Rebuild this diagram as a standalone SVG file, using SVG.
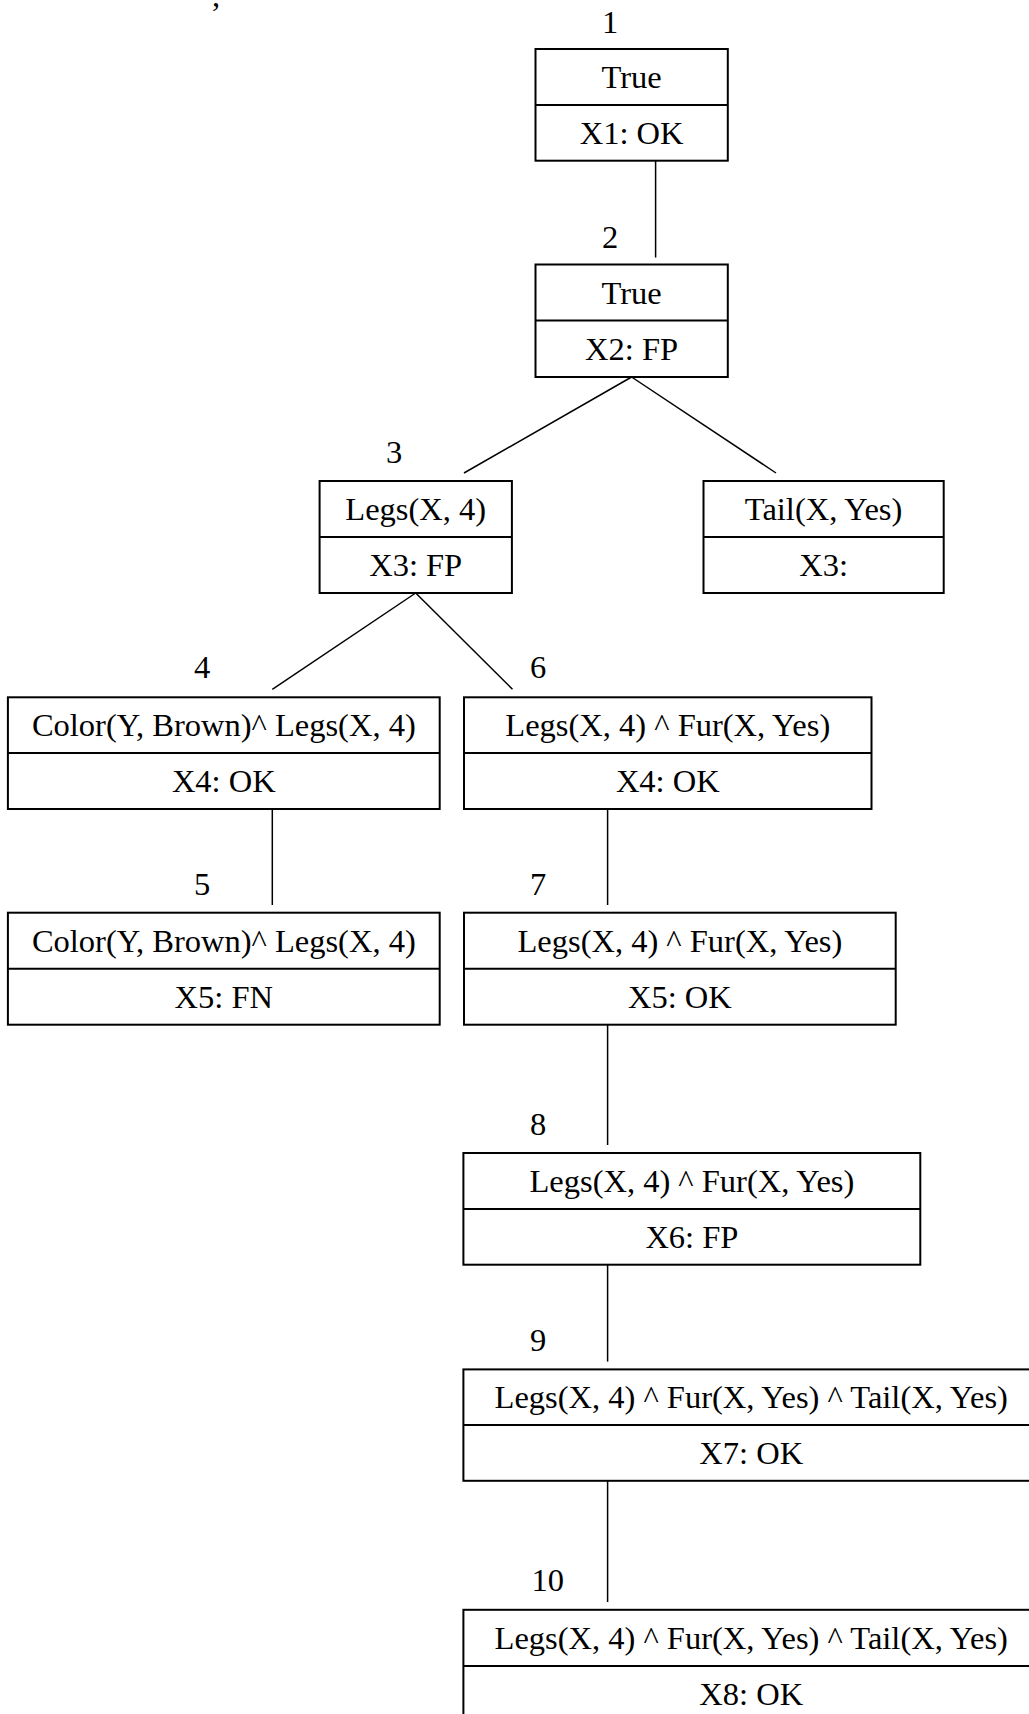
<svg xmlns="http://www.w3.org/2000/svg" width="1029" height="1714" viewBox="0 0 1029 1714">
<style>
  .box { fill: #fff; stroke: #000; stroke-width: 2; }
  .div { stroke: #000; stroke-width: 2; }
  .edge { stroke: #000; stroke-width: 1.5; fill: none; }
  text { font-family: "Liberation Serif", "Times New Roman", serif; font-size: 32.5px; fill: #000; }
  .c { text-anchor: middle; }
</style>
<rect x="0" y="0" width="1029" height="1714" fill="#fff"/>
<text x="212" y="6">,</text>
<g id="connectors">
  <line class="edge" x1="655.6" y1="160.7" x2="655.6" y2="257.5"/>
  <line class="edge" x1="631.6" y1="377" x2="464" y2="473"/>
  <line class="edge" x1="631.6" y1="377" x2="776" y2="473"/>
  <line class="edge" x1="415.7" y1="593" x2="272.3" y2="689.3"/>
  <line class="edge" x1="415.7" y1="593" x2="512.5" y2="689.3"/>
  <line class="edge" x1="272.3" y1="809" x2="272.3" y2="905"/>
  <line class="edge" x1="607.6" y1="809" x2="607.6" y2="905"/>
  <line class="edge" x1="607.6" y1="1024.7" x2="607.6" y2="1145"/>
  <line class="edge" x1="607.6" y1="1264.7" x2="607.6" y2="1361.6"/>
  <line class="edge" x1="607.6" y1="1480.8" x2="607.6" y2="1602"/>
</g>
<g id="node1">
  <text x="602" y="33">1</text>
  <rect class="box" x="535.5" y="49" width="192.3" height="111.7"/>
  <line class="div" x1="535.5" y1="105" x2="727.8" y2="105"/>
  <text class="c" x="631.6" y="88">True</text>
  <text class="c" x="631.6" y="144">X1: OK</text>
</g>
<g id="node2">
  <text x="602" y="248">2</text>
  <rect class="box" x="535.5" y="264.5" width="192.3" height="112.5"/>
  <line class="div" x1="535.5" y1="320.5" x2="727.8" y2="320.5"/>
  <text class="c" x="631.6" y="303.5">True</text>
  <text class="c" x="631.6" y="359.7">X2: FP</text>
</g>
<g id="node3">
  <text x="386" y="463">3</text>
  <rect class="box" x="319.6" y="481" width="192.3" height="112"/>
  <line class="div" x1="319.6" y1="537" x2="511.9" y2="537"/>
  <text class="c" x="415.7" y="520">Legs(X, 4)</text>
  <text class="c" x="415.7" y="576">X3: FP</text>
</g>
<g id="node3b">
  <rect class="box" x="703.5" y="481" width="240.2" height="112"/>
  <line class="div" x1="703.5" y1="537" x2="943.7" y2="537"/>
  <text class="c" x="823.6" y="520">Tail(X, Yes)</text>
  <text class="c" x="823.6" y="576">X3:</text>
</g>
<g id="node4">
  <text x="194" y="678">4</text>
  <rect class="box" x="7.9" y="697.3" width="431.8" height="111.7"/>
  <line class="div" x1="7.9" y1="753" x2="439.7" y2="753"/>
  <text class="c" x="223.8" y="736">Color(Y, Brown)^ Legs(X, 4)</text>
  <text class="c" x="223.8" y="792">X4: OK</text>
</g>
<g id="node6">
  <text x="530" y="678">6</text>
  <rect class="box" x="464" y="697.3" width="407.5" height="111.7"/>
  <line class="div" x1="464" y1="753" x2="871.5" y2="753"/>
  <text class="c" x="667.8" y="736">Legs(X, 4) ^ Fur(X, Yes)</text>
  <text class="c" x="667.8" y="792">X4: OK</text>
</g>
<g id="node5">
  <text x="194" y="895">5</text>
  <rect class="box" x="7.9" y="912.7" width="431.8" height="112"/>
  <line class="div" x1="7.9" y1="968.7" x2="439.7" y2="968.7"/>
  <text class="c" x="223.8" y="951.7">Color(Y, Brown)^ Legs(X, 4)</text>
  <text class="c" x="223.8" y="1007.7">X5: FN</text>
</g>
<g id="node7">
  <text x="530" y="895">7</text>
  <rect class="box" x="464" y="912.7" width="431.7" height="112"/>
  <line class="div" x1="464" y1="968.7" x2="895.7" y2="968.7"/>
  <text class="c" x="679.9" y="951.7">Legs(X, 4) ^ Fur(X, Yes)</text>
  <text class="c" x="679.9" y="1007.7">X5: OK</text>
</g>
<g id="node8">
  <text x="530" y="1135">8</text>
  <rect class="box" x="463.4" y="1153" width="456.9" height="111.7"/>
  <line class="div" x1="463.4" y1="1209" x2="920.3" y2="1209"/>
  <text class="c" x="691.9" y="1192">Legs(X, 4) ^ Fur(X, Yes)</text>
  <text class="c" x="691.9" y="1248">X6: FP</text>
</g>
<g id="node9">
  <text x="530" y="1351">9</text>
  <rect class="box" x="463.4" y="1369.4" width="575.6" height="111.4"/>
  <line class="div" x1="463.4" y1="1425.1" x2="1039" y2="1425.1"/>
  <text class="c" x="751.2" y="1408">Legs(X, 4) ^ Fur(X, Yes) ^ Tail(X, Yes)</text>
  <text class="c" x="751.2" y="1464">X7: OK</text>
</g>
<g id="node10">
  <text x="531.6" y="1591">10</text>
  <rect class="box" x="463.4" y="1609.8" width="575.6" height="112"/>
  <line class="div" x1="463.4" y1="1665.9" x2="1039" y2="1665.9"/>
  <text class="c" x="751.2" y="1649">Legs(X, 4) ^ Fur(X, Yes) ^ Tail(X, Yes)</text>
  <text class="c" x="751.2" y="1705">X8: OK</text>
</g>
</svg>
